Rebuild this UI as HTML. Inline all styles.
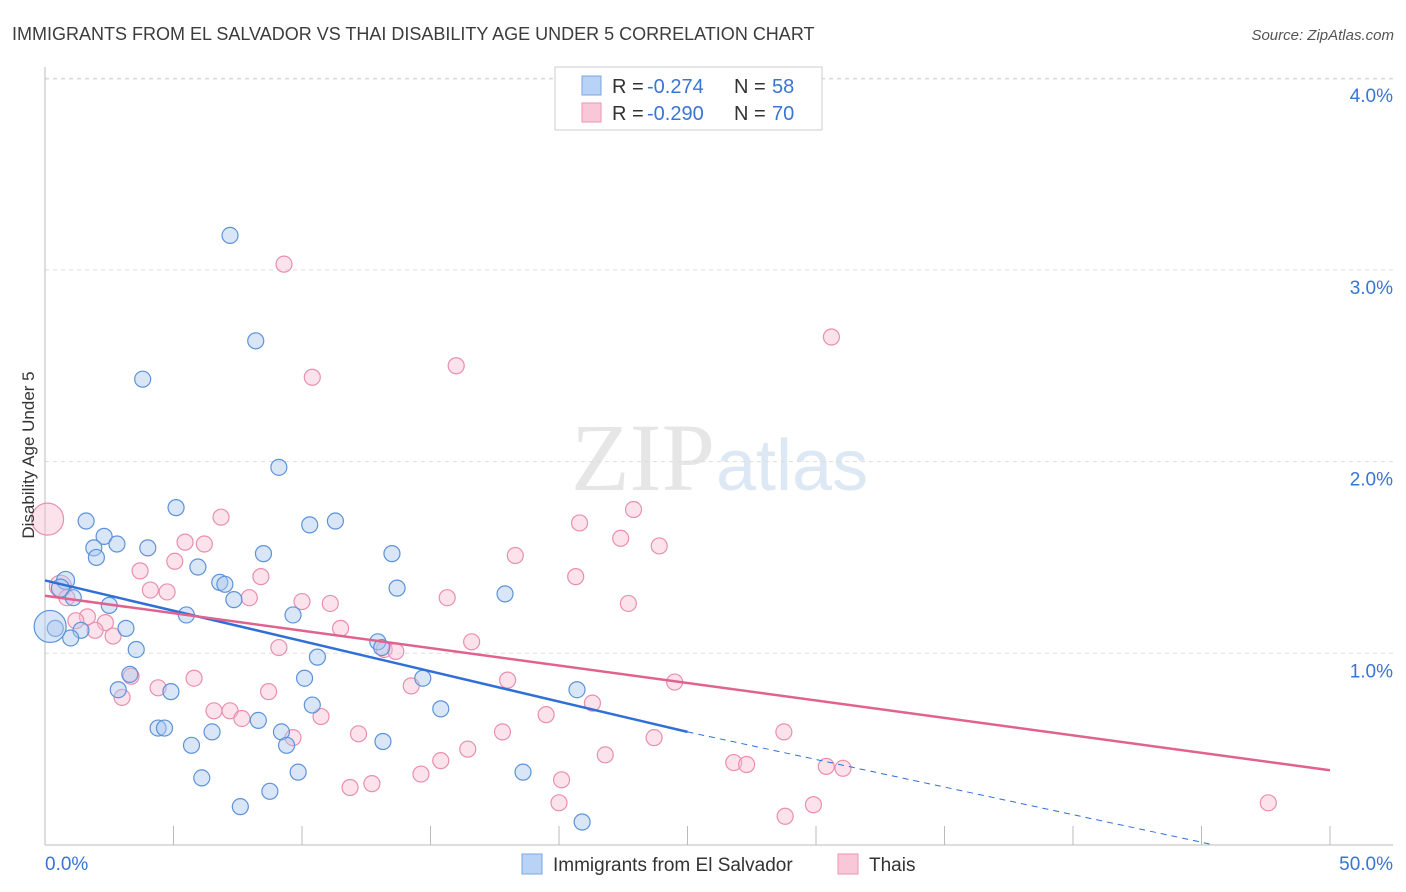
<!DOCTYPE html>
<html><head><meta charset="utf-8">
<style>
body{margin:0;background:#fff;font-family:"Liberation Sans",sans-serif;}
svg{display:block}
</style></head>
<body>
<svg id="chart" width="1406" height="892">
<text x="12" y="40" font-size="18" fill="#3c3c3c">IMMIGRANTS FROM EL SALVADOR VS THAI DISABILITY AGE UNDER 5 CORRELATION CHART</text>
<text x="1394" y="40" font-size="15" fill="#555" font-style="italic" text-anchor="end">Source: ZipAtlas.com</text>
<text x="715" y="490" font-size="96" fill="#e6e6e6" text-anchor="end" font-family="Liberation Serif,serif">ZIP</text>
<text x="716" y="490" font-size="72" fill="#dde8f5">atlas</text>
<g id="grid"></g><g id="axes"></g><g id="marks"></g>
<text transform="translate(34,455) rotate(-90)" font-size="17" fill="#333" text-anchor="middle">Disability Age Under 5</text>
<g>
<rect x="555" y="67" width="267" height="63" fill="#fff" stroke="#ccc"/>
<rect x="582" y="76" width="19" height="19" fill="#b8d3f5" stroke="#7aa7e0"/>
<rect x="582" y="103" width="19" height="19" fill="#f9c8d8" stroke="#ea96b2"/>
<text x="612" y="93" font-size="20" fill="#333">R =</text>
<text x="647" y="93" font-size="20" fill="#3a74d4">-0.274</text>
<text x="734" y="93" font-size="20" fill="#333">N =</text>
<text x="772" y="93" font-size="20" fill="#3a74d4">58</text>
<text x="612" y="120" font-size="20" fill="#333">R =</text>
<text x="647" y="120" font-size="20" fill="#3a74d4">-0.290</text>
<text x="734" y="120" font-size="20" fill="#333">N =</text>
<text x="772" y="120" font-size="20" fill="#3a74d4">70</text>
</g>
<g>
<rect x="522" y="854" width="20" height="20" fill="#b8d3f5" stroke="#7aa7e0"/>
<text x="553" y="871" font-size="19" fill="#333">Immigrants from El Salvador</text>
<rect x="838" y="854" width="20" height="20" fill="#f9c8d8" stroke="#ea96b2"/>
<text x="869" y="871" font-size="19" fill="#333">Thais</text>
</g>
</svg>
<script>
const xTicks=[0,5,10,15,20,25,30,35,40,45,50];
const yTicks=[1,2,3,4];
const blueX=[7.2,8.2,3.8,9.1,5.1,1.6,10.3,11.3,2.3,1.9,2.8,4.0,2.0,8.5,13.5,5.95,6.8,7.0,0.8,0.6,1.1,7.35,2.5,5.5,9.65,13.7,17.9,0.4,1.4,1.0,3.15,3.55,12.95,13.1,10.6,3.3,10.1,14.7,2.85,4.9,20.7,10.4,15.4,8.3,4.4,4.65,6.5,9.2,9.4,5.7,13.15,9.85,6.1,18.6,8.75,7.6,20.9,0.2];
const blueY=[3.18,2.63,2.43,1.97,1.76,1.69,1.67,1.69,1.61,1.55,1.57,1.55,1.50,1.52,1.52,1.45,1.37,1.36,1.38,1.34,1.29,1.28,1.25,1.20,1.20,1.34,1.31,1.13,1.12,1.08,1.13,1.02,1.06,1.03,0.98,0.89,0.87,0.87,0.81,0.80,0.81,0.73,0.71,0.65,0.61,0.61,0.59,0.59,0.52,0.52,0.54,0.38,0.35,0.38,0.28,0.20,0.12,1.14];
const blueR=[8,8,8,8,8,8,8,8,8,8,8,8,8,8,8,8,8,8,9,9,8,8,8,8,8,8,8,8,8,8,8,8,8,8,8,8,8,8,8,8,8,8,8,8,8,8,8,8,8,8,8,8,8,8,8,8,8,16];
const pinkX=[9.3,30.6,10.4,16.0,0.1,6.85,22.9,20.8,5.45,6.2,22.4,23.9,18.3,5.05,3.7,20.65,8.4,0.6,4.1,4.75,7.95,15.65,22.7,0.85,10.0,11.1,1.65,2.35,1.2,1.95,2.65,11.5,9.1,16.6,13.2,13.65,5.8,3.35,4.4,8.7,14.25,18.0,24.5,3.0,21.3,10.74,6.575,7.2,7.66,19.5,12.2,9.65,17.8,23.7,28.75,16.45,21.8,15.4,26.8,27.3,30.4,31.05,14.63,20.1,12.72,11.87,20.0,29.9,28.8,47.6];
const pinkY=[3.03,2.65,2.44,2.50,1.70,1.71,1.75,1.68,1.58,1.57,1.60,1.56,1.51,1.48,1.43,1.40,1.40,1.35,1.33,1.32,1.29,1.29,1.26,1.29,1.27,1.26,1.19,1.16,1.17,1.12,1.09,1.13,1.03,1.06,1.02,1.01,0.87,0.88,0.82,0.80,0.83,0.86,0.85,0.77,0.74,0.67,0.70,0.70,0.66,0.68,0.58,0.56,0.59,0.56,0.59,0.50,0.47,0.44,0.43,0.42,0.41,0.40,0.37,0.34,0.32,0.30,0.22,0.21,0.15,0.22];
const pinkR=[8,8,8,8,16,8,8,8,8,8,8,8,8,8,8,8,8,11,8,8,8,8,8,8,8,8,8,8,8,8,8,8,8,8,8,8,8,8,8,8,8,8,8,8,8,8,8,8,8,8,8,8,8,8,8,8,8,8,8,8,8,8,8,8,8,8,8,8,8,8];
const blueLine=[0,1.38,25,0.59,45.5,0.0];
const pinkLine=[0,1.30,50,0.39];
const X0=45,X1=1330,Y0=845,PY=191.7;
const sx=v=>X0+(X1-X0)*v/50, sy=v=>Y0-PY*v;
const NS='http://www.w3.org/2000/svg';
function mk(t,a,p){const e=document.createElementNS(NS,t);for(const k in a)e.setAttribute(k,a[k]);p.appendChild(e);return e;}
const grid=document.getElementById('grid'),axes=document.getElementById('axes'),marks=document.getElementById('marks');
yTicks.forEach(v=>{
 const l=mk('line',{x1:45,x2:1393,y1:sy(v),y2:sy(v),stroke:'#ddd','stroke-dasharray':'4,4'},grid);
 
 
 const t=mk('text',{x:1393,y:sy(v)+24,'font-size':19,fill:'#3a74d4','text-anchor':'end'},axes);
 t.textContent=v.toFixed(1)+'%';
 
 
});
const topGrid=mk('line',{x1:45,x2:1393,y1:79,y2:79,stroke:'#ddd','stroke-dasharray':'4,4'},grid);
mk('line',{x1:45,x2:45,y1:67,y2:845,stroke:'#bbb'},axes);
mk('line',{x1:45,x2:1393,y1:845,y2:845,stroke:'#bbb'},axes);
xTicks.forEach(v=>{
 const l=mk('line',{x1:sx(v),x2:sx(v),y1:826,y2:845,stroke:'#bbb'},axes);
 
 
});
[[0,'0.0%','start',45],[50,'50.0%','end',1393]].forEach(d=>{
 const t=mk('text',{x:d[3],y:870,'font-size':19,fill:'#3a74d4','text-anchor':d[2]},axes);
 t.textContent=d[1];
 
 
});
function pts(xs,ys,rs,fill,stroke,name){
 xs.forEach((x,i)=>{
  const c=mk('circle',{cx:sx(x),cy:sy(ys[i]),r:rs[i],fill:fill,stroke:stroke,'stroke-width':1.2},marks);
  
  
 });
}
pts(pinkX,pinkY,pinkR,'rgba(248,190,210,0.45)','#e98fb0','thais-point');
pts(blueX,blueY,blueR,'rgba(170,200,240,0.45)','#5c93d8','el-salvador-point');
const bl=mk('line',{x1:sx(blueLine[0]),y1:sy(blueLine[1]),x2:sx(blueLine[2]),y2:sy(blueLine[3]),stroke:'#2f6fd6','stroke-width':2.5},marks);


const bd=mk('line',{x1:sx(blueLine[2]),y1:sy(blueLine[3]),x2:sx(blueLine[4]),y2:sy(blueLine[5]),stroke:'#2f6fd6','stroke-width':1,'stroke-dasharray':'6,5'},marks);


const pl=mk('line',{x1:sx(pinkLine[0]),y1:sy(pinkLine[1]),x2:sx(pinkLine[2]),y2:sy(pinkLine[3]),stroke:'#e0628f','stroke-width':2.5},marks);


</script>
</body></html>
